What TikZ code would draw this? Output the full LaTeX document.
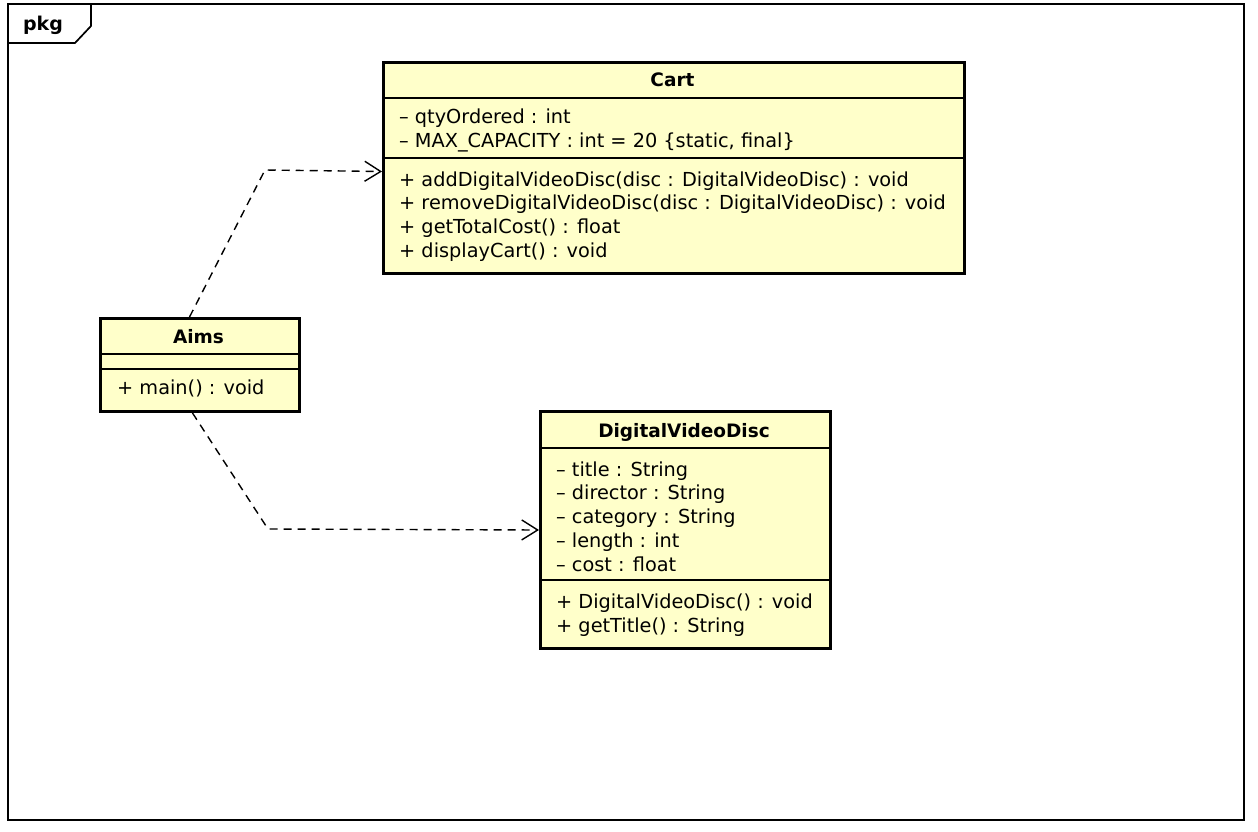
\documentclass[tikz,border=0pt]{standalone}
\usepackage{fontspec}
\setmainfont{DejaVu Sans}
\usetikzlibrary{arrows.meta}
\definecolor{umlfill}{HTML}{FFFFCA}
\begin{document}
\begin{tikzpicture}[x=1pt,y=-1pt,
  classbox/.style={draw=black, line width=3pt, fill=umlfill, inner sep=0pt, anchor=north west},
  classname/.style={font=\fontsize{18.5}{20}\selectfont\bfseries, inner sep=0pt, anchor=base},
  member/.style={font=\fontsize{19.3}{22}\selectfont, inner sep=0pt, anchor=base west},
  compline/.style={line width=1.4pt},
  dep/.style={line width=1.4pt, dash pattern=on 8pt off 6pt, -{Straight Barb[length=16pt,width=20pt,line width=1.4pt]}}]

% canvas and package frame
\useasboundingbox (0,0) rectangle (1258,832);
\fill[white] (0,0) rectangle (1258,832);
\draw[line width=1.7pt] (8,4) rectangle (1244,820);
\draw[line width=1.7pt] (8,43) -- (75,43) -- (91,26) -- (91,4);
\node[font=\fontsize{19}{20}\selectfont\bfseries, inner sep=0pt, anchor=base] (pkg) at (43,31) {pkg};

% class Cart
\node[classbox, minimum width=581pt, minimum height=211pt] (cart) at (382,61) {};
\node[classname] (cartT) at (672.5,87) {Cart};
\draw[compline] (382,98) -- (963,98);
\draw[compline] (382,158) -- (963,158);
\node[member] (c1) at (399,124) {– qtyOrdered : int};
\node[member] (c2) at (399,148) {– MAX\_CAPACITY : int = 20 \{static, final\}};
\node[member] (c3) at (399,186) {+ addDigitalVideoDisc(disc : DigitalVideoDisc) : void};
\node[member] (c4) at (399,209) {+ removeDigitalVideoDisc(disc : DigitalVideoDisc) : void};
\node[member] (c5) at (399,233) {+ getTotalCost() : float};
\node[member] (c6) at (399,257) {+ displayCart() : void};

% class Aims
\node[classbox, minimum width=199pt, minimum height=93pt] (aims) at (99,317) {};
\node[classname] (aimsT) at (198.5,343) {Aims};
\draw[compline] (99,354) -- (298,354);
\draw[compline] (99,369) -- (298,369);
\node[member] (a1) at (117,394) {+ main() : void};

% class DigitalVideoDisc
\node[classbox, minimum width=290pt, minimum height=237pt] (dvd) at (539,410) {};
\node[classname] (dvdT) at (684,437) {DigitalVideoDisc};
\draw[compline] (539,448) -- (829,448);
\draw[compline] (539,580) -- (829,580);
\node[member] (d1) at (556,476) {– title : String};
\node[member] (d2) at (556,499) {– director : String};
\node[member] (d3) at (556,523) {– category : String};
\node[member] (d4) at (556,547) {– length : int};
\node[member] (d5) at (556,571) {– cost : float};
\node[member] (d6) at (556,608) {+ DigitalVideoDisc() : void};
\node[member] (d7) at (556,632) {+ getTitle() : String};

% dependencies
\coordinate (bendC) at (265,170);
\coordinate (bendD) at (268,529);
\draw[dep] ([xshift=-10.5pt]aims.north) -- (bendC) -- ([yshift=-3.5pt]cart.west);
\draw[dep] ([xshift=-7.5pt]aims.south) -- (bendD) -- (dvd.west);
\end{tikzpicture}
\end{document}
